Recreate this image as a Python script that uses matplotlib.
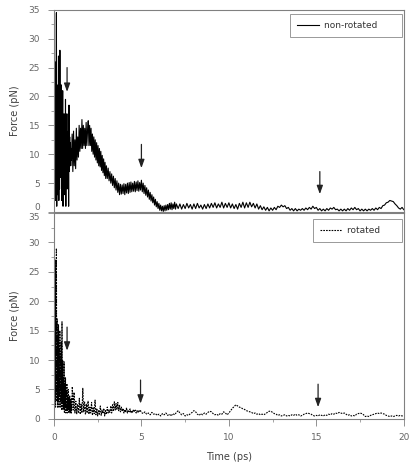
import numpy as np
import matplotlib
matplotlib.use("Agg")
import matplotlib.pyplot as plt
from matplotlib.ticker import MultipleLocator

# ---------------- data ----------------
# non-rotated force (pN), segments sampled on regular time grids
nr_seg1 = [0, 18, 5, 26, 2, 24, 8, 34.5, 1, 22, 3, 17, 6, 27, 2, 20, 4, 28, 6, 18,
           9, 22, 2, 15, 7, 21, 1, 14, 5, 17, 3, 12, 6, 19.5, 1, 13, 8, 17, 4, 12,
           9, 14, 1, 18.5, 7, 13, 9, 12, 8, 11, 9]                      # t 0.00-1.00
nr_seg2 = [13.5, 7, 14, 8, 12.5, 7.5, 14.5, 9, 13, 9.5,
           15, 10.5, 14.5, 11, 16, 11, 15, 11.5, 14.5, 11,
           15.5, 11.5, 14, 15.8, 11.5, 15, 11.5, 14.5, 10.5, 13.5,
           10, 13, 9.5, 12.5, 9, 12, 8.5, 11.5, 8, 11,
           7.8, 10.5, 7.2, 9.8, 6.8, 9.2, 6.3, 8.6, 5.8, 8.0]               # t 1.04-3.00
nr_seg3 = [5.8, 7.6, 5.4, 7.0, 5.0, 6.6, 4.6, 6.2, 4.2, 5.8,
           3.8, 5.4, 3.4, 5.0, 3.0, 4.8, 3.1, 4.7, 3.2, 4.9,
           3.0, 4.8, 3.3, 5.0, 3.2, 5.1, 3.4, 5.2, 3.5, 5.0,
           3.6, 5.3, 3.5, 5.2, 3.7, 5.4, 3.6, 5.1, 3.8, 5.5,
           3.5, 5.0, 3.2, 4.6, 2.9, 4.2, 2.6, 3.8, 2.2, 3.4,
           1.9, 3.0, 1.6, 2.6, 1.2, 2.2, 0.9, 1.8, 0.6, 1.5,
           0.3, 1.2, 0.2, 1.0, 0.1, 1.1, 0.2, 1.2, 0.3, 1.3,
           0.4, 1.5, 0.5, 1.6, 0.4, 1.4, 0.6, 1.7, 0.5, 1.4]               # t 3.05-7.00
nr_seg4 = [0.6, 1.4, 0.5, 1.3, 0.6, 1.5, 0.7, 1.3, 0.5, 1.4,
           0.6, 1.5, 0.7, 1.2, 0.5, 1.3, 0.6, 1.4, 0.7, 1.5,
           0.8, 1.6, 0.7, 1.4, 0.8, 1.7, 0.7, 1.5, 0.8, 1.6,
           0.7, 1.4, 0.6, 1.3, 0.5, 1.5, 0.8, 1.7, 0.7, 1.6,
           0.8, 1.7, 0.9, 1.5, 0.7, 1.4, 0.5, 1.1, 0.4, 0.9,
           0.3, 0.8, 0.2, 0.7, 0.3, 0.8, 0.4, 1.0, 0.8, 1.2,
           0.9, 1.1, 0.6, 0.8, 0.3, 0.6, 0.2, 0.6, 0.2, 0.5,
           0.3, 0.6, 0.3, 0.7, 0.4, 0.8, 0.5, 1.0, 0.6, 0.8,
           0.3, 0.6, 0.2, 0.5, 0.2, 0.6, 0.3, 0.7, 0.5, 0.8,
           0.4, 0.5, 0.2, 0.5, 0.2, 0.5, 0.2, 0.6, 0.3, 0.7,
           0.4, 0.8, 0.4, 0.6, 0.2, 0.5, 0.2, 0.5, 0.2, 0.5,
           0.3, 0.6, 0.3, 0.7, 0.4, 0.8, 0.6, 1.1, 1.2, 1.6,
           1.7, 2.0, 1.9, 1.8, 1.4, 1.1, 0.7, 0.5, 0.8, 0.4]               # t 7.1-20.0

# rotated force (pN)
ro_seg1 = [0, 10, 3, 20, 2, 27, 4, 29, 3, 17, 2, 14, 3, 16, 2, 12, 4, 15, 2, 11,
           3, 13, 1.5, 16.5, 3, 10, 1.5, 7, 2, 9.7, 1, 6, 2, 7, 1, 5, 1.5, 6, 1, 4,
           1.5, 5, 1, 3.5, 1.5, 4, 1, 3, 1.2, 3.5, 1]                       # t 0.00-1.00
ro_seg2 = [5.5, 1.5, 4.5, 1, 3, 0.8, 2.5, 1, 3.5, 0.8, 2.5, 1, 5.2, 1.2, 3, 0.7, 2.5,
           1, 3, 0.8, 2, 1, 2.8, 0.6, 2, 0.9, 3.2, 0.7, 1.8, 0.5, 1.5, 0.8, 2.2, 0.6,
           1.5, 0.9, 1.8, 0.5, 1.4, 0.8, 2.0, 1.0, 1.5, 1.1, 2.2, 1.0, 2.4, 1.3, 2.9,
           1.5, 2.6, 1.6, 2.8, 1.4, 2.3, 1.2, 2.0, 1.3, 1.8, 1.0, 1.6, 1.1, 1.9, 1.0,
           1.5, 1.2, 1.7, 1.0, 1.4, 1.1, 1.6, 1.2, 1.5, 1.0, 1.4, 1.1, 1.5, 1.2, 1.4,
           1.1]                                                            # t 1.05-5.00
ro_seg3 = [0.9, 1.2, 0.8, 1.0, 0.7, 1.1, 0.8, 0.9, 0.6, 0.8, 0.5, 0.9, 0.7, 1.0, 0.6,
           0.8, 0.5, 0.9, 0.7, 1.1, 1.4, 1.0, 0.7, 0.9, 0.5, 0.7, 0.6, 0.9, 1.1, 1.4,
           1.2, 0.8, 0.6, 0.9, 0.7, 1.0, 0.8, 1.1, 1.3, 1.2, 0.9, 0.7, 0.8, 0.6, 0.9,
           0.8, 1.2, 1.0, 0.7, 1.0, 1.4, 1.8, 2.1, 2.4, 2.2, 2.0, 1.9, 1.7, 1.6, 1.4,
           1.3, 1.2, 1.1, 0.9, 1.0, 0.8, 0.9, 0.7, 0.8, 0.7, 0.9, 1.1, 1.3, 1.3, 1.1,
           0.9, 0.8, 0.6, 0.7, 0.5, 0.6, 0.7, 0.5, 0.6, 0.5, 0.7, 0.6, 0.8, 0.6, 0.7,
           0.5, 0.6, 0.8, 0.9, 1.0, 0.9, 0.8, 0.6, 0.5, 0.6, 0.5, 0.7, 0.6, 0.5, 0.7,
           0.6, 0.8, 0.7, 0.9, 0.8, 1.0, 0.9, 1.1, 1.0, 0.9, 1.0, 0.8, 0.6, 0.7, 0.5,
           0.6, 0.5, 0.8, 0.9, 1.0, 0.9, 0.7, 0.4, 0.5, 0.4, 0.6, 0.7, 0.8, 0.9, 1.0,
           0.9, 1.0, 0.9, 0.8, 0.6, 0.5, 0.4, 0.5, 0.4, 0.5, 0.6, 0.5, 0.6, 0.5, 0.6]  # t 5.1-20.0

nr_ranges = [(0.0, 1.0), (1.04, 3.0), (3.05, 7.0), (7.1, 20.0)]
ro_ranges = [(0.0, 1.0), (1.05, 5.0), (5.1, 20.0)]

# arrows: (time, force start, force end)
nr_arrows = [(0.75, 25.0, 20.8), (5.0, 11.7, 7.6), (15.2, 7.0, 3.1)]
ro_arrows = [(0.75, 15.6, 11.6), (4.95, 6.6, 2.6), (15.1, 5.9, 2.0)]

xticks = [0, 5, 10, 15, 20]
yticks = [0, 5, 10, 15, 20, 25, 30, 35]
labels = ["non-rotated", "rotated"]


def build(segs, ranges):
    t = np.concatenate([np.linspace(a, b, len(s)) for s, (a, b) in zip(segs, ranges)])
    f = np.concatenate([np.asarray(s, float) for s in segs])
    return t, f


t_nr, f_nr = build([nr_seg1, nr_seg2, nr_seg3, nr_seg4], nr_ranges)
t_ro, f_ro = build([ro_seg1, ro_seg2, ro_seg3], ro_ranges)

# ---------------- figure ----------------
fig = plt.figure(figsize=(4.15, 4.67), dpi=100)
ax1 = fig.add_axes([0.130, 0.546, 0.843, 0.433])
ax2 = fig.add_axes([0.130, 0.103, 0.843, 0.441])

spine_col = "#808080"
tick_col = "#666666"

for ax in (ax1, ax2):
    ax.set_xlim(0, 20)
    ax.set_ylim(0, 35)
    ax.set_yticks(yticks)
    ax.yaxis.set_minor_locator(MultipleLocator(2.5))
    ax.xaxis.set_minor_locator(MultipleLocator(2.5))
    for s in ax.spines.values():
        s.set_color(spine_col)
        s.set_linewidth(0.8)
    ax.tick_params(axis="y", which="major", direction="out", length=4, width=0.6,
                   color=spine_col, labelsize=6.5, labelcolor=tick_col, pad=6)
    ax.tick_params(axis="y", which="minor", direction="out", length=2.5, width=0.5,
                   color=spine_col)
    ax.set_ylabel("Force (pN)", fontsize=7, color="#404040", labelpad=6)

ax1.get_yticklabels()[0].set_verticalalignment("bottom")
ax2.get_yticklabels()[-1].set_verticalalignment("top")

ax1.tick_params(axis="x", which="both", length=0, labelbottom=False)
ax2.set_xticks(xticks)
ax2.tick_params(axis="x", which="major", direction="out", length=5, width=0.6,
                color=spine_col, labelsize=6.5, labelcolor=tick_col, pad=5)
ax2.tick_params(axis="x", which="minor", direction="out", length=2.5, width=0.5,
                color=spine_col)
ax2.set_xlabel("Time (ps)", fontsize=7, color="#404040", labelpad=7)

ax1.plot(t_nr, f_nr, color="black", lw=0.8, label=labels[0] + "      ")
ax2.plot(t_ro, f_ro, color="black", lw=0.8, linestyle=(0, (1.5, 1.0)),
         label=labels[1] + "     ")

for ax, arrows in ((ax1, nr_arrows), (ax2, ro_arrows)):
    for (x, y0, y1) in arrows:
        ax.annotate("", xy=(x, y1), xytext=(x, y0),
                    arrowprops=dict(arrowstyle="-|>,head_length=0.5,head_width=0.18",
                                    color="#222222", lw=0.9, shrinkA=0, shrinkB=0))

for ax, anchor in ((ax1, (0.994, 0.980)), (ax2, (0.994, 0.971))):
    leg = ax.legend(loc="upper right", bbox_to_anchor=anchor, borderaxespad=0,
                    fontsize=6.5, frameon=True, fancybox=False,
                    borderpad=0.8, handlelength=2.4, handletextpad=0.55)
    leg.get_frame().set_edgecolor(spine_col)
    leg.get_frame().set_linewidth(0.7)
    for txt in leg.get_texts():
        txt.set_color("#333333")

fig.savefig("out.png", dpi=100)
